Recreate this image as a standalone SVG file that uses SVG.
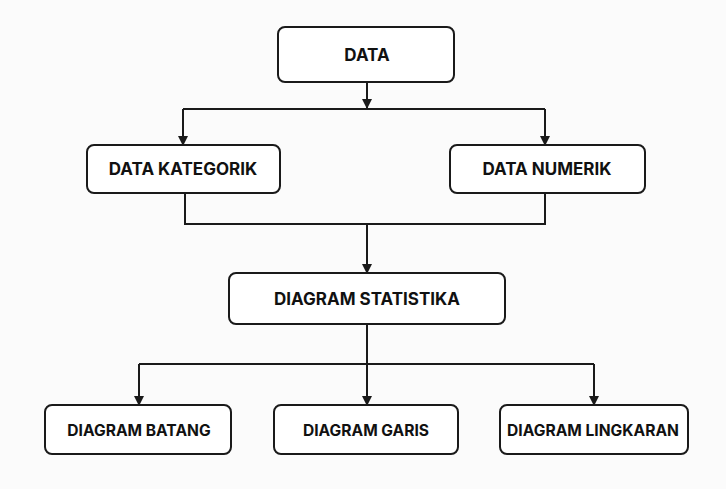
<svg xmlns="http://www.w3.org/2000/svg" width="726" height="489" viewBox="0 0 726 489">
<defs>
<style>
.box{fill:#ffffff;stroke:#1a1a1a;stroke-width:2}
.lbl{font-family:Inter,"Liberation Sans",sans-serif;font-weight:700;fill:#111;text-anchor:middle;dominant-baseline:central}
.big{font-size:17px}
.sm{font-size:15.6px}
.ln{fill:none;stroke:#1a1a1a;stroke-width:2}
</style>
<marker id="ah" markerWidth="10" markerHeight="10" refX="9" refY="5" orient="auto" markerUnits="userSpaceOnUse">
<path d="M0,0 L10,5 L0,10 Z" fill="#1a1a1a"/>
</marker>
</defs>
<rect width="726" height="489" fill="#fbfbfb"/>
<g id="connectors">
<path class="ln" d="M367,82 V108" marker-end="url(#ah)"/>
<path class="ln" d="M183,109 H545"/>
<path class="ln" d="M183,109 V145" marker-end="url(#ah)"/>
<path class="ln" d="M545,109 V145" marker-end="url(#ah)"/>
<path class="ln" d="M185,193 V224 H545 V193"/>
<path class="ln" d="M367,224 V273" marker-end="url(#ah)"/>
<path class="ln" d="M367,324 V364"/>
<path class="ln" d="M139,364 H594"/>
<path class="ln" d="M139,364 V405" marker-end="url(#ah)"/>
<path class="ln" d="M367,364 V405" marker-end="url(#ah)"/>
<path class="ln" d="M594,364 V405" marker-end="url(#ah)"/>
</g>
<g id="data"><rect class="box" x="278" y="27" width="176" height="55" rx="7"/><text class="lbl big" x="367" y="55">DATA</text></g>
<g id="kategorik"><rect class="box" x="87" y="145" width="193" height="48" rx="7"/><text class="lbl big" x="183" y="169">DATA KATEGORIK</text></g>
<g id="numerik"><rect class="box" x="450" y="145" width="195" height="48" rx="7"/><text class="lbl big" x="547" y="169">DATA NUMERIK</text></g>
<g id="statistika"><rect class="box" x="229" y="273" width="276" height="51" rx="7"/><text class="lbl big" x="367" y="299">DIAGRAM STATISTIKA</text></g>
<g id="batang"><rect class="box" x="45" y="405" width="186" height="49" rx="7"/><text class="lbl sm" x="139" y="430">DIAGRAM BATANG</text></g>
<g id="garis"><rect class="box" x="274" y="405" width="184" height="49" rx="7"/><text class="lbl sm" x="366" y="430">DIAGRAM GARIS</text></g>
<g id="lingkaran"><rect class="box" x="500" y="405" width="188" height="49" rx="7"/><text class="lbl sm" x="593" y="430">DIAGRAM LINGKARAN</text></g>
</svg>
